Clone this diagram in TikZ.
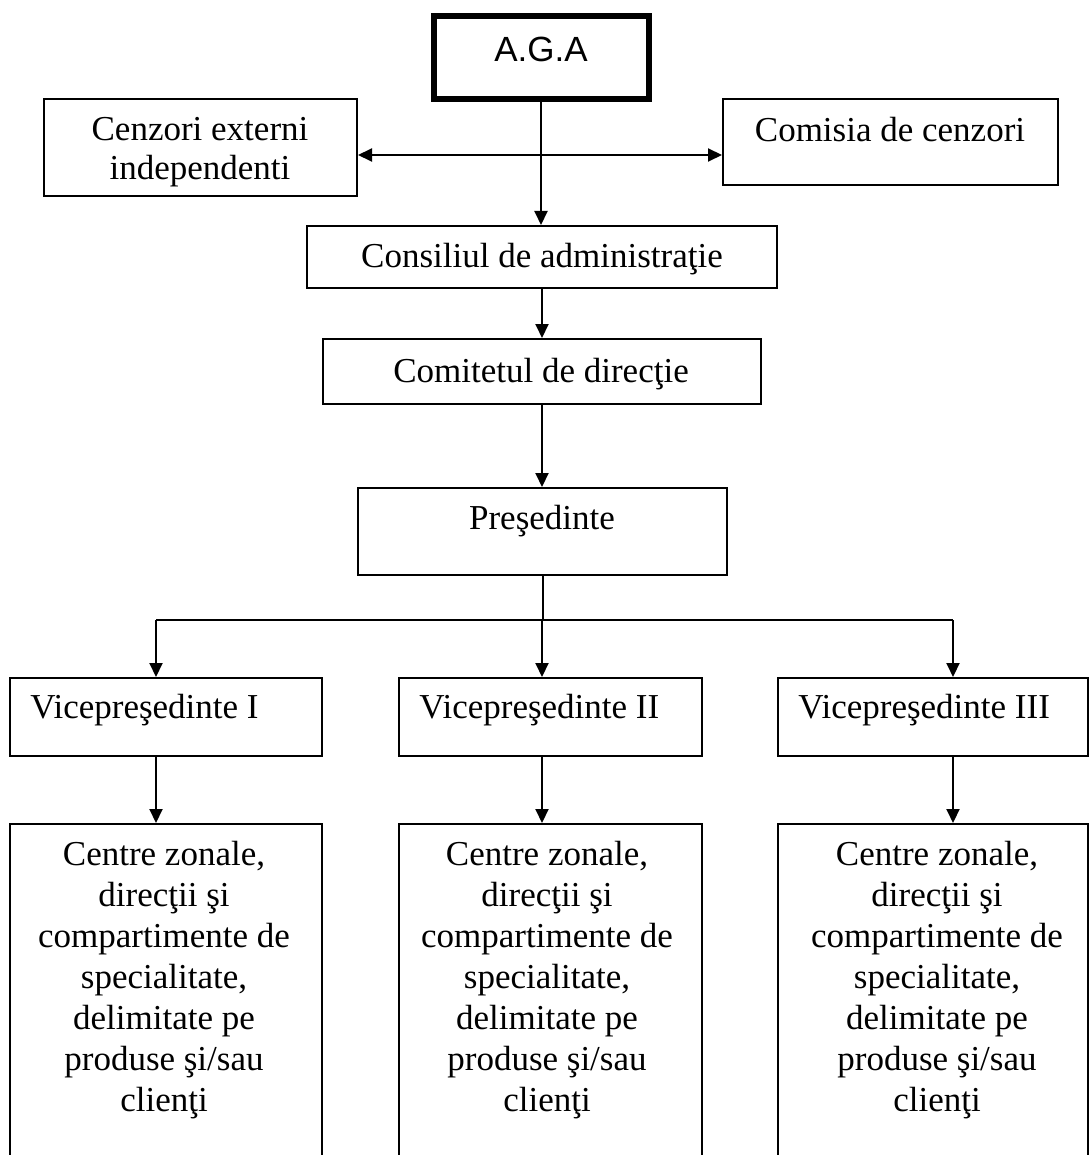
\documentclass[tikz,border=0pt]{standalone}
\usepackage{fontspec}
\setmainfont{Liberation Serif}
\newfontfamily\arialf{Liberation Sans}
\usetikzlibrary{arrows.meta}
\begin{document}
\begin{tikzpicture}[x=0.5pt,y=-0.5pt,
  box/.style={draw, line width=1pt, inner sep=0pt},
  lbl/.style={inner sep=0pt, font=\fontsize{17.5}{20.5}\selectfont},
  arr/.style={line width=1pt, -{Triangle[length=7pt,width=6.5pt]}},
  ln/.style={line width=1pt}]
\useasboundingbox (0,0) rectangle (1091,1155);
\clip (0,0) rectangle (1091,1155);
% boxes
\node[box, line width=3pt, minimum width=107.5pt, minimum height=41.5pt] (aga) at (541,57.5) {};
\node[box, minimum width=156.5pt, minimum height=48.5pt] (cen) at (200.5,147.5) {};
\node[box, minimum width=167.5pt, minimum height=43pt] (com) at (890.5,142) {};
\node[box, minimum width=235pt, minimum height=31pt] (cons) at (542,257) {};
\node[box, minimum width=219pt, minimum height=32.5pt] (comit) at (542,371.5) {};
\node[box, minimum width=184.5pt, minimum height=43.5pt] (pres) at (542.5,531.5) {};
\node[box, minimum width=156pt, minimum height=39pt] (v1) at (166,717) {};
\node[box, minimum width=151.5pt, minimum height=39pt] (v2) at (550.5,717) {};
\node[box, minimum width=155pt, minimum height=39pt] (v3) at (933,717) {};
\node[box, minimum width=156pt, minimum height=175.5pt] (b1) at (166,999.5) {};
\node[box, minimum width=151.5pt, minimum height=175.5pt] (b2) at (550.5,999.5) {};
\node[box, minimum width=155pt, minimum height=175.5pt] (b3) at (933,999.5) {};
% texts (multi-line nodes: base = baseline of last line)
\node[lbl, font=\arialf\fontsize{17.5}{20}\selectfont, anchor=base] (tAga) at (541,62) {A.G.A};
\node[lbl, align=center, anchor=base, font=\fontsize{17.5}{19.5}\selectfont] (tCen) at (200,180) {Cenzori externi\\independenti};
\node[lbl, anchor=base] (tCom) at (890,142) {Comisia de cenzori};
\node[lbl, anchor=base] (tCons) at (542,267) {Consiliul de administraţie};
\node[lbl, anchor=base] (tComit) at (541,382) {Comitetul de direcţie};
\node[lbl, anchor=base] (tPres) at (542,529) {Preşedinte};
\node[lbl, anchor=base west] (tV1) at (30,718) {Vicepreşedinte I};
\node[lbl, anchor=base west] (tV2) at (419,718) {Vicepreşedinte II};
\node[lbl, anchor=base west] (tV3) at (798,718) {Vicepreşedinte III};
\node[lbl, align=center, anchor=base] (tB1) at (164,1111) {Centre zonale,\\direcţii şi\\compartimente de\\specialitate,\\delimitate pe\\produse şi/sau\\clienţi};
\node[lbl, align=center, anchor=base] (tB2) at (547,1111) {Centre zonale,\\direcţii şi\\compartimente de\\specialitate,\\delimitate pe\\produse şi/sau\\clienţi};
\node[lbl, align=center, anchor=base] (tB3) at (937,1111) {Centre zonale,\\direcţii şi\\compartimente de\\specialitate,\\delimitate pe\\produse şi/sau\\clienţi};
% connectors
\coordinate (h) at (541,155);
\draw[ln, {Triangle[length=7pt,width=6.5pt]}-{Triangle[length=7pt,width=6.5pt]}] (cen.east |- h) -- (com.west |- h);
\draw[arr] (aga.south) -- (aga.south |- cons.north);
\draw[arr] (cons.south) -- (cons.south |- comit.north);
\draw[arr] (comit.south) -- (comit.south |- pres.north);
\coordinate (s1) at (156,620);
\coordinate (s2) at (542,620);
\coordinate (s3) at (953,620);
\draw[ln] (pres.south) -- (pres.south |- s2);
\draw[ln] (s1) -- (s3);
\draw[arr] (s1) -- (s1 |- v1.north);
\draw[arr] (s2) -- (s2 |- v2.north);
\draw[arr] (s3) -- (s3 |- v3.north);
\draw[arr] (s1 |- v1.south) -- (s1 |- b1.north);
\draw[arr] (s2 |- v2.south) -- (s2 |- b2.north);
\draw[arr] (s3 |- v3.south) -- (s3 |- b3.north);
\end{tikzpicture}
\end{document}
